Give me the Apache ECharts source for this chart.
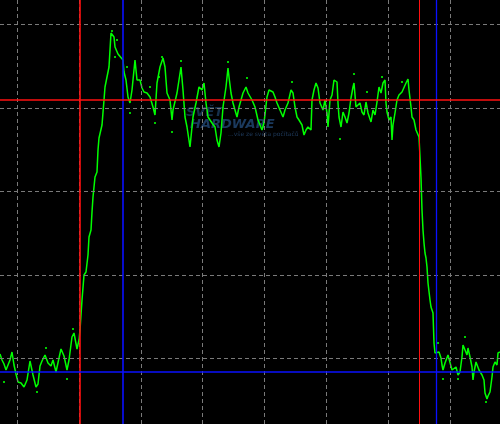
<!DOCTYPE html>
<html>
<head>
<meta charset="utf-8">
<script src="https://cdn.jsdelivr.net/npm/echarts@6/dist/echarts.min.js"></script>
<style>
  html, body { margin: 0; padding: 0; background: #000; }
  #chart { width: 500px; height: 424px; }
</style>
</head>
<body>
<div id="chart"></div>
<script>
// trace: sample index (x) and level (y)
var sample = [0,2,4,6,8,10,12,14,16,18,21,24,27,30,33,36,38,40,42,45,48,51,53,56,59,61,64,67,69,72,74,77,79,
  80,82,84,86,88,89,91,92,93,94,95,97,98,99,102,104,105,107,109,110,111,112,114,115,117,118,120,123,124,126,128,130,
  132,133,135,137,140,142,144,147,150,153,155,157,160,163,165,167,170,172,173,177,179,181,183,185,187,190,193,196,199,
  202,204,206,208,212,215,217,219,221,223,226,228,229,231,233,237,239,243,246,248,252,255,258,262,264,267,269,273,275,
  277,280,283,285,288,291,293,295,297,299,302,304,306,308,311,312,314,316,318,320,323,325,327,328,330,332,334,337,338,
  339,341,343,345,347,349,351,353,354,356,358,360,362,364,366,368,371,373,375,377,379,381,383,385,386,387,389,391,392,
  393,395,397,399,402,404,406,408,409,411,412,414,416,417,419,420,421,422,423,424,425,426,427,428,430,431,433,434,435,
  437,439,441,442,443,445,448,450,452,454,456,458,460,462,463,465,467,468,470,472,473,474,476,477,479,481,482,484,485,
  487,488,490,492,493,495,497,498,500];
var level = [70,64,60,54,52,64,72,59,50,42,41,37,44,63,49,37,40,58,63,69,61,58,64,52,66,75,68,54,64,87,91,75,84,
  94,124,149,152,169,187,194,212,227,237,247,252,274,286,299,324,337,347,357,374,391,393,387,377,379,370,368,364,352,344,327,321,
  334,344,364,344,344,336,332,331,327,317,309,341,357,366,357,331,324,304,314,331,344,357,334,307,297,277,307,321,337,
  334,341,321,307,301,297,284,277,291,317,337,356,347,331,321,307,317,331,337,331,324,317,304,294,301,327,334,332,327,
  321,314,307,314,321,334,331,317,307,304,299,289,294,297,294,324,334,341,336,321,314,324,311,297,324,329,344,342,321,
  307,297,312,307,301,311,326,337,341,317,317,321,312,309,322,311,302,314,309,322,337,331,341,344,321,312,304,307,284,
  299,311,324,329,332,334,341,345,334,317,307,304,294,292,287,267,246,214,194,181,171,166,157,141,124,117,111,81,71,
  69,72,66,59,54,61,69,71,54,54,57,49,52,67,79,81,69,76,67,57,44,52,62,61,54,56,49,44,31,
  25,28,32,47,57,62,59,71,72];

// stray persistence dots
var dotSample = [112,117,115,127,130,150,155,162,159,4,46,37,67,73,438,443,465,486,458,354,340,382,367,402,181,228,172,247,292];
var dotLevel = [393,384,367,357,311,337,301,367,347,42,76,32,45,95,81,45,87,22,45,350,285,347,332,342,363,362,292,346,342];

// graticule positions
var gridSamples = [17.3,79.1,140.9,202.7,264.5,326.3,388.1,449.9];
var gridLevels = [399.7,316,232.5,148.8,65.3];

// cursors
var redTimeA = 80, blueTimeA = 122.5, redTimeB = 419.5, blueTimeB = 436.5;
var redLevel = 324, blueLevel = 52;

var chart = echarts.init(document.getElementById('chart'));

var graticule = [];
gridSamples.forEach(function (v) { graticule.push({ xAxis: v }); });
gridLevels.forEach(function (v) { graticule.push({ yAxis: v }); });

function cursor(axis, v, color, w) {
  var d = { lineStyle: { color: color, width: w, type: 'solid' } };
  d[axis] = v;
  return d;
}

chart.setOption({
  backgroundColor: '#000',
  animation: false,
  grid: { left: 0, right: 0, top: 0, bottom: 0 },
  xAxis: { type: 'value', min: 0, max: 500, show: false, splitLine: { show: false } },
  yAxis: { type: 'value', min: 0, max: 424, show: false, splitLine: { show: false } },
  graphic: [
    { type: 'text', z: 1, left: 186, top: 106,
      style: { text: 'SVĚT', fill: '#15304c', font: 'bold italic 13px "DejaVu Sans"' } },
    { type: 'text', z: 1, left: 190, top: 118,
      style: { text: 'HARDWARE', fill: '#1b3a5e', font: 'bold italic 13px "DejaVu Sans"' } },
    { type: 'text', z: 1, left: 228, top: 131,
      style: { text: '...vše ze světa počítačů', fill: '#1e3a5c', font: '6px "DejaVu Sans"' } }
  ],
  series: [
    {
      name: 'graticule', type: 'line', data: [], z: 1, silent: true,
      markLine: {
        silent: true, symbol: 'none', animation: false,
        label: { show: false },
        lineStyle: { color: '#7a7a7a', width: 1, type: [4, 3] },
        data: graticule
      }
    },
    {
      name: 'cursors', type: 'line', data: [], z: 2, silent: true,
      markLine: {
        silent: true, symbol: 'none', animation: false,
        label: { show: false },
        data: [
          cursor('xAxis', redTimeA, '#ff1010', 1.6),
          cursor('xAxis', blueTimeA, '#0a10ff', 1.6),
          cursor('xAxis', redTimeB, '#ff1010', 1),
          cursor('xAxis', blueTimeB, '#0a10ff', 1.3),
          cursor('yAxis', redLevel, '#ff1010', 1.6),
          cursor('yAxis', blueLevel, '#0a10ff', 1.6)
        ]
      }
    },
    {
      name: 'trace', type: 'line', z: 3, silent: true,
      showSymbol: false, symbol: 'none',
      lineStyle: { color: '#00ff00', width: 1.5 },
      data: sample.map(function (s, i) { return [s, level[i]]; })
    },
    {
      name: 'dots', type: 'scatter', z: 3, silent: true,
      symbol: 'rect', symbolSize: 2,
      itemStyle: { color: '#00ff00' },
      data: dotSample.map(function (s, i) { return [s, dotLevel[i]]; })
    }
  ]
});
</script>
</body>
</html>
